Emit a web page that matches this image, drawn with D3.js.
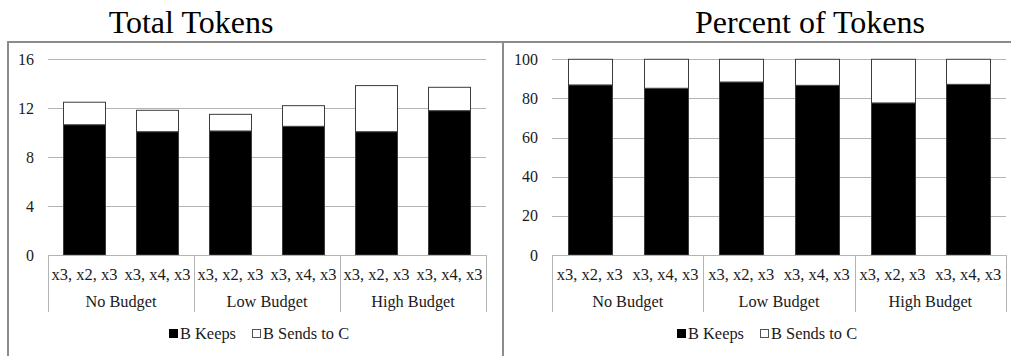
<!DOCTYPE html>
<html>
<head>
<meta charset="utf-8">
<script src="https://cdn.jsdelivr.net/npm/d3@7"></script>
<style>
  html, body { margin: 0; padding: 0; background: #fff; }
  svg { display: block; }
</style>
</head>
<body>
<svg id="chart" width="1011" height="356"></svg>
<script>
// Budget groups and the two token-multiplier conditions inside each group
const groups = ["No Budget", "Low Budget", "High Budget"];
const conditions = ["x3, x2, x3", "x3, x4, x3"];
const seriesNames = ["B Keeps", "B Sends to C"];

// Total tokens (per bar, in group order)
const totalKeeps = [10.65, 10.08, 10.14, 10.52, 10.08, 11.8];
const totalSends = [1.84, 1.75, 1.36, 1.69, 3.77, 1.91];
const totalTicks = [0, 4, 8, 12, 16];

// Percent of tokens (per bar, in group order)
const pctKeeps = [86.9, 85.2, 88.4, 86.7, 77.7, 87.2];
const pctSends = [13.1, 14.8, 11.6, 13.3, 22.3, 12.8];
const pctTicks = [0, 20, 40, 60, 80, 100];

const FONT = "'Liberation Serif', 'Times New Roman', serif";
const seriesFill = ["#000000", "#ffffff"];
const svg = d3.select("#chart");

const frameColor = "#8c8c8c";
const gridColor = "#b3b3b3";
const barStroke = "#3c3c3c";

// Panel frames
const frame = svg.append("g").attr("fill", "none").attr("stroke", frameColor).attr("stroke-width", 2);
frame.append("path").attr("d", "M8,356V42H1011");
frame.append("path").attr("d", "M503,42V356");

function rows(keeps, sends) {
  const out = [];
  groups.forEach((g, gi) => conditions.forEach((c, ci) => {
    const i = gi * conditions.length + ci;
    out.push({ group: g, cond: c, "B Keeps": keeps[i], "B Sends to C": sends[i] });
  }));
  return out;
}

function label(sel, size) {
  return sel.style("font-family", FONT).style("font-size", size + "px").attr("fill", "#1a1a1a");
}

function drawPanel(opt) {
  const g = svg.append("g");
  const { left, right, top, bottom } = opt.plot;

  const y = d3.scaleLinear().domain(opt.domain).range([bottom, top]);
  const xg = d3.scaleBand().domain(groups).range([left, right]).padding(0);
  const xc = d3.scaleBand().domain(conditions).range([0, xg.bandwidth()])
    .paddingInner(0.42).paddingOuter(0.21);

  // Horizontal gridlines
  g.append("g").selectAll("line").data(opt.ticks).join("line")
    .attr("x1", left).attr("x2", right)
    .attr("y1", d => Math.round(y(d)) + 0.5).attr("y2", d => Math.round(y(d)) + 0.5)
    .attr("stroke", gridColor).attr("stroke-width", 1);

  // Value axis labels
  label(g.append("g").selectAll("text").data(opt.ticks).join("text"), 16)
    .attr("x", left - 14).attr("y", d => y(d))
    .attr("dy", "0.35em").attr("text-anchor", "end")
    .text(d => d);

  // Stacked bars
  const data = rows(opt.keeps, opt.sends);
  const stacked = d3.stack().keys(seriesNames)(data);
  g.append("g").selectAll("g").data(stacked).join("g")
    .attr("fill", (d, i) => seriesFill[i])
    .attr("stroke", barStroke).attr("stroke-width", 1)
    .selectAll("rect").data(d => d).join("rect")
    .attr("x", d => Math.round(xg(d.data.group) + xc(d.data.cond)) + 0.5)
    .attr("width", Math.round(xc.bandwidth()))
    .attr("y", d => y(d[1]))
    .attr("height", d => y(d[0]) - y(d[1]));

  // Category axis: baseline and group separators
  const ax = g.append("g").attr("stroke", gridColor).attr("stroke-width", 1);
  ax.append("line").attr("x1", left).attr("x2", right)
    .attr("y1", Math.round(bottom) + 0.5).attr("y2", Math.round(bottom) + 0.5);
  const seps = groups.map(d => xg(d)).concat([right]);
  ax.selectAll("line.sep").data(seps).join("line").attr("class", "sep")
    .attr("x1", d => Math.round(d) + 0.5).attr("x2", d => Math.round(d) + 0.5)
    .attr("y1", bottom).attr("y2", bottom + 57);

  // Condition labels
  label(g.append("g").selectAll("text").data(data).join("text"), 16.5)
    .attr("x", d => xg(d.group) + xc(d.cond) + xc.bandwidth() / 2)
    .attr("y", bottom + 25).attr("text-anchor", "middle")
    .text(d => d.cond);

  // Group labels
  label(g.append("g").selectAll("text").data(groups).join("text"), 16.3)
    .attr("x", d => xg(d) + xg.bandwidth() / 2)
    .attr("y", bottom + 52).attr("text-anchor", "middle")
    .text(d => d);

  // Title
  label(svg.append("text"), 32).attr("fill", "#000")
    .attr("x", opt.titleX).attr("y", 33)
    .attr("text-anchor", "middle")
    .text(opt.title);

  // Legend: two swatch + label items, 83px apart, centred on legendX
  const itemOffset = [0, 83];
  const lg = svg.append("g").attr("transform", `translate(${opt.legendX - 90},339)`);
  const items = lg.selectAll("g").data(seriesNames).join("g")
    .attr("transform", (d, i) => `translate(${itemOffset[i]},0)`);
  items.append("rect").attr("x", 0.5).attr("y", -9.5).attr("width", 8).attr("height", 8)
    .attr("fill", (d, i) => seriesFill[i]).attr("stroke", (d, i) => i === 0 ? "#000" : "#555");
  label(items.append("text"), 16.4).attr("x", 11).attr("y", 0).text(d => d);
}

drawPanel({
  title: "Total Tokens", titleX: 191, legendX: 259,
  plot: { left: 48, right: 486, top: 59.3, bottom: 255 },
  domain: [0, 16], ticks: totalTicks, keeps: totalKeeps, sends: totalSends
});

drawPanel({
  title: "Percent of Tokens", titleX: 810, legendX: 767,
  plot: { left: 552, right: 1006, top: 59.3, bottom: 255 },
  domain: [0, 100], ticks: pctTicks, keeps: pctKeeps, sends: pctSends
});
</script>
</body>
</html>
